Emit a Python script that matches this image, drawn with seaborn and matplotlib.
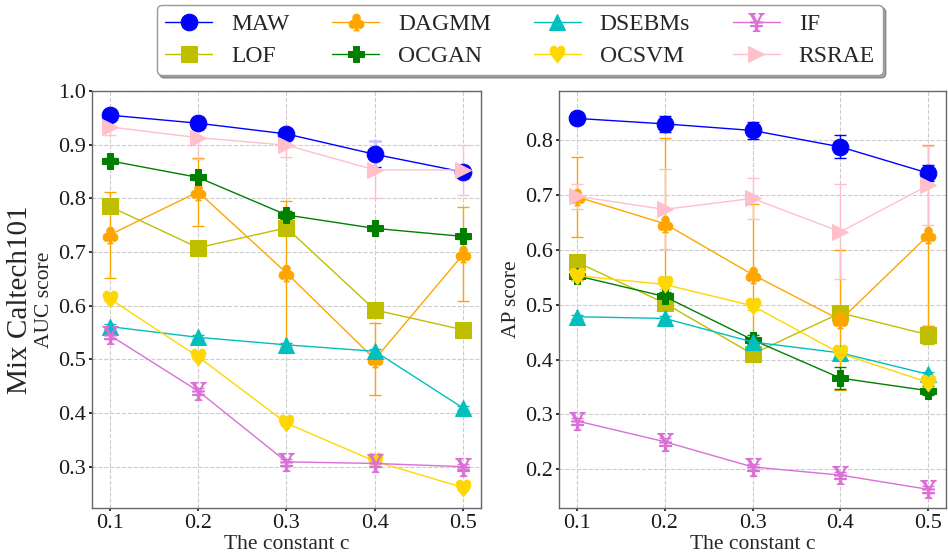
import numpy as np
import pandas as pd
import matplotlib
matplotlib.use("Agg")
import matplotlib.pyplot as plt
import seaborn as sns

# contamination ratio c
c_values = [0.1, 0.2, 0.3, 0.4, 0.5]
methods = ["MAW", "LOF", "DAGMM", "OCGAN", "DSEBMs", "OCSVM", "IF", "RSRAE"]

# AUC scores (mean) per method
auc_maw = [0.955, 0.940, 0.920, 0.882, 0.849]
auc_lof = [0.785, 0.708, 0.745, 0.592, 0.555]
auc_dagmm = [0.732, 0.812, 0.661, 0.500, 0.696]
auc_ocgan = [0.870, 0.839, 0.769, 0.744, 0.729]
auc_dsebms = [0.561, 0.541, 0.527, 0.515, 0.409]
auc_ocsvm = [0.613, 0.505, 0.381, 0.310, 0.261]
auc_if = [0.545, 0.441, 0.309, 0.306, 0.300]
auc_rsrae = [0.933, 0.913, 0.899, 0.853, 0.853]

# AUC standard deviations
auc_maw_sd = [0.005, 0.010, 0.006, 0.024, 0.008]
auc_lof_sd = [0.010, 0.010, 0.010, 0.008, 0.005]
auc_dagmm_sd = [0.080, 0.063, 0.134, 0.067, 0.087]
auc_ocgan_sd = [0.005, 0.005, 0.008, 0.005, 0.005]
auc_dsebms_sd = [0.004, 0.004, 0.004, 0.004, 0.004]
auc_ocsvm_sd = [0.004, 0.004, 0.004, 0.004, 0.004]
auc_if_sd = [0.008, 0.006, 0.005, 0.005, 0.005]
auc_rsrae_sd = [0.015, 0.040, 0.022, 0.053, 0.047]

# AP scores (mean) per method
ap_maw = [0.840, 0.830, 0.818, 0.788, 0.740]
ap_lof = [0.578, 0.503, 0.410, 0.485, 0.445]
ap_dagmm = [0.697, 0.648, 0.555, 0.472, 0.627]
ap_ocgan = [0.553, 0.515, 0.436, 0.366, 0.343]
ap_dsebms = [0.478, 0.475, 0.432, 0.412, 0.373]
ap_ocsvm = [0.553, 0.537, 0.498, 0.411, 0.358]
ap_if = [0.288, 0.250, 0.204, 0.189, 0.163]
ap_rsrae = [0.698, 0.674, 0.694, 0.633, 0.718]

# AP standard deviations
ap_maw_sd = [0.008, 0.015, 0.016, 0.021, 0.015]
ap_lof_sd = [0.010, 0.010, 0.010, 0.008, 0.017]
ap_dagmm_sd = [0.073, 0.157, 0.128, 0.128, 0.165]
ap_ocgan_sd = [0.008, 0.008, 0.008, 0.020, 0.008]
ap_dsebms_sd = [0.004, 0.004, 0.004, 0.004, 0.004]
ap_ocsvm_sd = [0.008, 0.008, 0.008, 0.008, 0.008]
ap_if_sd = [0.006, 0.006, 0.006, 0.006, 0.006]
ap_rsrae_sd = [0.023, 0.073, 0.037, 0.087, 0.072]

auc_means = [auc_maw, auc_lof, auc_dagmm, auc_ocgan, auc_dsebms, auc_ocsvm, auc_if, auc_rsrae]
auc_sds = [auc_maw_sd, auc_lof_sd, auc_dagmm_sd, auc_ocgan_sd, auc_dsebms_sd, auc_ocsvm_sd, auc_if_sd, auc_rsrae_sd]
ap_means = [ap_maw, ap_lof, ap_dagmm, ap_ocgan, ap_dsebms, ap_ocsvm, ap_if, ap_rsrae]
ap_sds = [ap_maw_sd, ap_lof_sd, ap_dagmm_sd, ap_ocgan_sd, ap_dsebms_sd, ap_ocsvm_sd, ap_if_sd, ap_rsrae_sd]

colors = {
    "MAW": (0.0, 0.0, 1.0), "LOF": (0.75, 0.75, 0.0), "DAGMM": "orange",
    "OCGAN": (0.0, 0.5, 0.0), "DSEBMs": (0.0, 0.75, 0.75), "OCSVM": "gold",
    "IF": "orchid", "RSRAE": "pink",
}
markers = {
    "MAW": "o", "LOF": "s", "DAGMM": "$\u2663$", "OCGAN": "P",
    "DSEBMs": "^", "OCSVM": "$\u2665$", "IF": "$\u00a5$", "RSRAE": ">",
}
marker_sizes = {
    "MAW": 12, "LOF": 12, "DAGMM": 12, "OCGAN": 12,
    "DSEBMs": 12, "OCSVM": 12, "IF": 13, "RSRAE": 12,
}

sns.set_theme(style="whitegrid", rc={
    "grid.linestyle": "--", "grid.color": "0.8", "grid.linewidth": 0.8,
    "axes.edgecolor": "0.4", "axes.linewidth": 1.0,
    "xtick.bottom": True, "ytick.left": True,
    "xtick.color": "0.1", "ytick.color": "0.1",
    "xtick.major.size": 2.5, "ytick.major.size": 2.5,
    "xtick.major.pad": 2.0, "ytick.major.pad": 2.0,
})
plt.rcParams["font.family"] = ["Liberation Serif", "DejaVu Serif"]
plt.rcParams["mathtext.fontset"] = "stix"


def long_table(means, sds):
    rows = []
    for name, m, s in zip(methods, means, sds):
        for c, v, e in zip(c_values, m, s):
            rows.append({"method": name, "c": c, "score": v, "sd": e})
    return pd.DataFrame(rows)


auc_df = long_table(auc_means, auc_sds)
ap_df = long_table(ap_means, ap_sds)

fig = plt.figure(figsize=(9.48, 5.53), dpi=100)
ax_auc = fig.add_axes([92 / 948, 45 / 553, 389 / 948, 417 / 553])
ax_ap = fig.add_axes([559 / 948, 45 / 553, 387 / 948, 417 / 553])


def draw_panel(ax, df, ylabel, ylim, yticks):
    for name in methods:
        sub = df[df["method"] == name]
        col = colors[name]
        ax.errorbar(sub["c"], sub["score"], yerr=sub["sd"], fmt="none",
                    ecolor=col, elinewidth=1.0, capsize=4, capthick=1.0, zorder=2)
        sns.lineplot(data=sub, x="c", y="score", ax=ax, color=col,
                     marker=markers[name], markersize=marker_sizes[name],
                     markeredgecolor=col, linewidth=1.0, label=name,
                     errorbar=None, zorder=3)
    ax.set_xlim(0.08, 0.52)
    ax.set_ylim(*ylim)
    ax.set_xticks(c_values)
    ax.set_xticklabels([f"{c:.1f}" for c in c_values])
    ax.set_yticks(yticks)
    ax.set_yticklabels([f"{t:.1f}" for t in yticks])
    ax.tick_params(labelsize=16)
    ax.set_xlabel("The constant c", fontsize=15.5, labelpad=1)
    ax.set_ylabel(ylabel, fontsize=15.5, labelpad=3)
    ax.legend_.remove()


draw_panel(ax_auc, auc_df, "AUC score", (0.223, 1.0), [0.3, 0.4, 0.5, 0.6, 0.7, 0.8, 0.9, 1.0])
draw_panel(ax_ap, ap_df, "AP score", (0.129, 0.89), [0.2, 0.3, 0.4, 0.5, 0.6, 0.7, 0.8])

fig.text(0.021, 0.4575, "Mix Caltech101", rotation=90, fontsize=21,
         ha="center", va="center")

handles, labels = ax_auc.get_legend_handles_labels()
leg = fig.legend(handles, labels, ncol=4, loc="upper center",
                 bbox_to_anchor=(0.5485, 0.991), fontsize=17, shadow=True,
                 frameon=True, fancybox=True, handlelength=2.0,
                 handletextpad=0.8, columnspacing=1.8, borderpad=0.35,
                 labelspacing=0.45, borderaxespad=0.0)
leg.get_frame().set_edgecolor("0.6")

fig.savefig("out.png", dpi=100)
